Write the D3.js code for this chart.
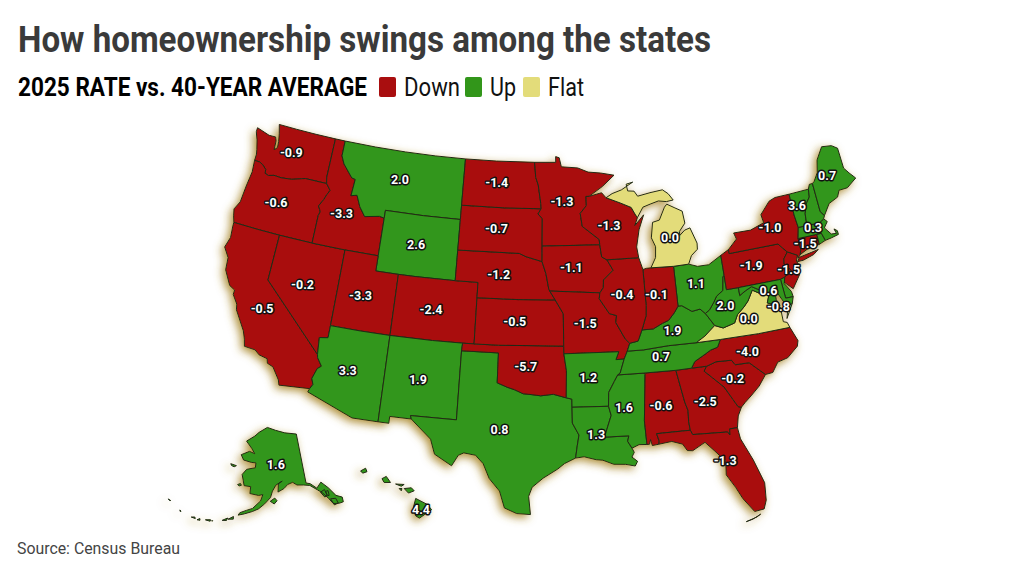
<!DOCTYPE html>
<html>
<head>
<meta charset="utf-8">
<script src="https://cdn.jsdelivr.net/npm/d3@7"></script>
<style>
  html, body { margin: 0; background: #fff; }
  text { font-family: Roboto, sans-serif; }
</style>
</head>
<body>
<div id="chart"></div>
<script>
const stateNames = ["WA","OR","CA","NV","ID","MT","WY","UT","CO","AZ","NM","TX","OK","KS","NE","SD","ND","MN","IA","MO","AR","LA","MS","AL","GA","FL","SC","NC","TN","KY","VA","WV","OH","IN","IL","WI","MI","PA","NY","NJ","DE","MD","CT","RI","MA","VT","NH","ME","AK","HI"];
const stateValues = [-0.9,-0.6,-0.5,-0.2,-3.3,2.0,2.6,-3.3,-2.4,3.3,1.9,0.8,-5.7,-0.5,-1.2,-0.7,-1.4,-1.3,-1.1,-1.5,1.2,1.3,1.6,-0.6,-2.5,-1.3,-0.2,-4.0,0.7,1.9,0.0,2.0,1.1,-0.1,-0.4,-1.3,0.0,-1.9,-1.0,-1.5,-0.8,0.6,-1.5,null,0.3,3.6,null,0.7,1.6,4.4];
const stateTrend = ["Down","Down","Down","Down","Down","Up","Up","Down","Down","Up","Up","Up","Down","Down","Down","Down","Down","Down","Down","Down","Up","Up","Up","Down","Down","Down","Down","Down","Up","Up","Flat","Up","Up","Down","Down","Down","Flat","Down","Down","Down","Up","Up","Down","Up","Up","Up","Up","Up","Up","Up"];
const legendItems = ["Down","Up","Flat"];

// outlines in lon,lat, one string per ring
const outlines = {
  WA: ["-124.7,48.38 -123.4,48.12 -122.75,48.14 -122.6,47.9 -122.55,47.3 -122.3,47.5 -122.35,47.9 -122.5,48.4 -122.75,49 -121,49 -119,49 -117.03,49 -117.04,46.42 -116.92,46 -118.98,46 -119.3,45.93 -120.2,45.73 -121.2,45.65 -121.9,45.68 -122.4,45.57 -122.76,45.65 -122.8,45.9 -123.2,46.15 -123.55,46.26 -124.05,46.27 -124.05,46.7 -124.15,47 -124.4,47.6 -124.7,48.1"],
  OR: ["-124.05,46.27 -123.55,46.26 -123.2,46.15 -122.8,45.9 -122.76,45.65 -122.4,45.57 -121.9,45.68 -121.2,45.65 -120.2,45.73 -119.3,45.93 -118.98,46 -116.92,46 -116.46,45.61 -116.67,45.3 -116.85,44.95 -117.2,44.45 -117.03,44.25 -116.93,44.1 -117.03,43.83 -117.03,42 -120,42 -122,42 -124.21,42 -124.4,42.4 -124.55,42.84 -124.2,43.4 -124.1,44.5 -123.95,45.5"],
  CA: ["-124.21,42 -122,42 -120,42 -120,39 -114.63,35 -114.57,34.8 -114.14,34.3 -114.43,34.1 -114.7,33.4 -114.52,33.03 -114.72,32.72 -117.12,32.53 -117.25,32.85 -117.9,33.6 -118.4,33.75 -118.5,34.03 -119.2,34.15 -119.6,34.4 -120.5,34.45 -120.65,34.9 -120.9,35.4 -121.9,36.6 -122,36.96 -122.5,37.5 -122.5,37.8 -123,38 -123.7,38.9 -123.8,39.7 -124.35,40.3 -124.1,41 -124.2,41.75"],
  NV: ["-120,42 -117.03,42 -114.04,42 -114.04,37 -114.05,36.2 -114.75,36.1 -114.63,35 -120,39"],
  ID: ["-117.03,49 -116.05,49 -116.05,48 -115.7,47.5 -114.7,46.7 -114.35,46.65 -114.45,45.55 -113.9,45.65 -113.45,44.95 -112.85,44.37 -111.5,44.55 -111.05,44.48 -111.05,42 -114.04,42 -117.03,42 -117.03,43.83 -116.93,44.1 -117.03,44.25 -117.2,44.45 -116.85,44.95 -116.67,45.3 -116.46,45.61 -116.92,46 -117.04,46.42"],
  MT: ["-116.05,49 -113,49 -110,49 -107,49 -104.05,49 -104.05,45.94 -104.05,45 -107.5,45 -111.05,45 -111.05,44.48 -111.5,44.55 -112.85,44.37 -113.45,44.95 -113.9,45.65 -114.45,45.55 -114.35,46.65 -114.7,46.7 -115.7,47.5 -116.05,48"],
  WY: ["-111.05,45 -107.5,45 -104.05,45 -104.05,43 -104.05,41 -107.5,41 -109.05,41 -111.05,41 -111.05,42 -111.05,44.48"],
  UT: ["-114.04,42 -111.05,42 -111.05,41 -109.05,41 -109.05,37 -111.5,37 -114.04,37"],
  CO: ["-109.05,41 -107.5,41 -104.05,41 -102.05,41 -102.05,40 -102.05,37 -103,37 -105.5,37 -109.05,37"],
  AZ: ["-114.04,37 -111.5,37 -109.05,37 -109.05,31.33 -111.07,31.33 -114.81,32.49 -114.72,32.72 -114.52,33.03 -114.7,33.4 -114.43,34.1 -114.14,34.3 -114.57,34.8 -114.63,35 -114.75,36.1 -114.05,36.2"],
  NM: ["-109.05,37 -105.5,37 -103,37 -103.04,36.5 -103.04,32 -106.62,32 -106.53,31.78 -108.21,31.78 -108.21,31.33 -109.05,31.33"],
  TX: ["-103.04,36.5 -100,36.5 -100,34.56 -99.2,34.3 -98.6,34.15 -97.9,33.9 -97.2,33.85 -96.5,33.78 -95.5,33.88 -94.48,33.64 -94.04,33.55 -94.04,33.02 -94.04,31.99 -93.55,31.2 -93.7,30.5 -93.85,29.7 -94.7,29.35 -95.2,29 -96.3,28.4 -97.1,27.8 -97.35,27.2 -97.2,26 -98.2,26.05 -99.1,26.4 -99.5,27.5 -100.3,28.3 -100.8,29.25 -101.4,29.77 -102.3,29.88 -102.7,29.7 -103.15,28.98 -104.5,29.65 -104.9,30.6 -106.53,31.78 -106.62,32 -103.04,32"],
  OK: ["-103,37 -102.05,37 -100,37 -94.62,37 -94.62,36.5 -94.43,35.4 -94.48,33.64 -95.5,33.88 -96.5,33.78 -97.2,33.85 -97.9,33.9 -98.6,34.15 -99.2,34.3 -100,34.56 -100,36.5 -103.04,36.5"],
  KS: ["-102.05,40 -98.5,40 -95.3,40 -94.62,39.1 -94.62,37 -100,37 -102.05,37"],
  NE: ["-104.05,43 -98.5,43 -97.9,42.8 -96.45,42.49 -96.1,41.7 -95.85,40.7 -95.77,40.58 -95.3,40 -98.5,40 -102.05,40 -102.05,41 -104.05,41"],
  SD: ["-104.05,45.94 -100,45.94 -96.56,45.94 -96.85,45.6 -96.45,45.3 -96.45,43.5 -96.45,42.49 -97.9,42.8 -98.5,43 -104.05,43 -104.05,45"],
  ND: ["-104.05,49 -101,49 -97.23,49 -97.1,48 -96.85,47.5 -96.6,46.3 -96.56,45.94 -100,45.94 -104.05,45.94"],
  MN: ["-97.23,49 -95.15,49 -95.15,49.38 -94.8,49.3 -94.6,48.7 -93,48.6 -92,48.3 -90.8,48.2 -89.5,48 -90.7,47.3 -92,46.7 -92.3,46.7 -92.3,46.1 -92.9,45.6 -92.75,44.75 -91.25,43.85 -91.22,43.5 -96.45,43.5 -96.45,45.3 -96.85,45.6 -96.56,45.94 -96.6,46.3 -96.85,47.5 -97.1,48"],
  IA: ["-96.45,43.5 -91.22,43.5 -91.1,42.7 -90.65,42.5 -90.15,41.8 -91.05,41.2 -91.1,40.7 -91.42,40.38 -95.77,40.58 -95.85,40.7 -96.1,41.7 -96.45,42.49"],
  MO: ["-95.77,40.58 -91.42,40.38 -91.5,40 -90.7,39 -90.1,38.85 -90.2,38.4 -89.5,37.3 -89.15,37 -89.4,36.5 -89.7,36 -90.37,36 -90.1,36.5 -94.62,36.5 -94.62,37 -94.62,39.1 -95.3,40"],
  AR: ["-94.62,36.5 -90.1,36.5 -90.37,36 -89.7,36 -90.1,35.1 -90.3,35 -90.6,34.6 -91.1,33.9 -91.17,33 -94.04,33.02 -94.04,33.55 -94.48,33.64 -94.43,35.4"],
  LA: ["-94.04,33.02 -91.17,33 -91,32.4 -91.6,31 -89.73,31 -89.85,30.65 -89.55,30.18 -89.4,29.9 -89.6,29.6 -89.2,29.3 -89.4,29 -90.1,29.15 -91,29.2 -91.8,29.5 -92.3,29.55 -93.2,29.77 -93.85,29.7 -93.7,30.5 -93.55,31.2 -94.04,31.99"],
  MS: ["-91.17,33 -91.1,33.9 -90.6,34.6 -90.3,35 -88.2,35 -88.1,34.9 -88.45,31.9 -88.4,30.35 -89,30.38 -89.55,30.18 -89.85,30.65 -89.73,31 -91.6,31 -91,32.4"],
  AL: ["-88.2,35 -85.6,34.98 -85.18,32.87 -85,32.3 -85.05,31.55 -85,31 -87.6,31 -87.45,30.5 -87.5,30.3 -88,30.25 -88.1,30.65 -88.2,30.35 -88.4,30.35 -88.45,31.9 -88.1,34.9"],
  GA: ["-85.6,34.98 -84.32,35 -83.1,35 -83.35,34.7 -82.75,34.2 -81.95,33.5 -81.4,32.6 -81.1,32.1 -80.85,32.03 -81.2,31.5 -81.4,30.75 -82,30.75 -82.05,30.36 -82.2,30.57 -84.86,30.7 -85,31 -85.05,31.55 -85,32.3 -85.18,32.87"],
  FL: ["-87.6,31 -85,31 -84.86,30.7 -82.2,30.57 -82.05,30.36 -82,30.75 -81.4,30.75 -81.3,30 -80.6,28.5 -80.05,26.9 -80.15,25.75 -80.4,25.2 -81.1,25.13 -81.8,26.1 -82.2,26.9 -82.75,27.8 -82.65,28.7 -83.4,29.5 -84,30.1 -85,29.65 -85.4,29.7 -85.7,30.15 -86.5,30.4 -87.5,30.3 -87.45,30.5",
       "-81.8,24.55 -81.3,24.65 -80.7,24.9 -81,24.75"],
  SC: ["-83.1,35 -82.3,35.2 -81.05,35.15 -80.8,34.82 -79.67,34.8 -78.55,33.86 -79.2,33.2 -79.9,32.7 -80.5,32.3 -80.85,32.03 -81.1,32.1 -81.4,32.6 -81.95,33.5 -82.75,34.2 -83.35,34.7"],
  NC: ["-84.32,35 -83.1,35 -82.3,35.2 -81.05,35.15 -80.8,34.82 -79.67,34.8 -78.55,33.86 -77.95,33.9 -77.4,34.5 -76.55,34.65 -75.6,35.25 -75.45,35.6 -75.87,36.55 -78.5,36.55 -81.68,36.59 -82,36.12 -82.6,36 -83.1,35.78 -84,35.4"],
  TN: ["-90.3,35 -88.2,35 -85.6,34.98 -84.32,35 -84,35.4 -83.1,35.78 -82.6,36 -82,36.12 -81.68,36.59 -83.68,36.6 -86,36.62 -88.07,36.5 -89.4,36.5 -89.7,36 -90.1,35.1"],
  KY: ["-89.4,36.5 -88.07,36.5 -86,36.62 -83.68,36.6 -82.9,36.95 -81.97,37.54 -82.6,38.4 -83,38.73 -83.7,38.65 -84.5,39.1 -84.82,39.1 -85.2,38.7 -85.75,38.25 -86.3,38.1 -87.1,37.8 -88.05,37.8 -88.45,37.1 -89.15,37"],
  VA: ["-75.87,36.55 -78.5,36.55 -81.68,36.59 -83.68,36.6 -82.9,36.95 -81.97,37.54 -81.3,37.3 -80.3,37.5 -79.95,38 -79.3,38.42 -78.87,38.76 -78.35,39.4 -77.83,39.13 -77.5,39.2 -77.05,38.85 -77.3,38.4 -76.3,37.95 -76.3,37 -76,36.9",
       "-75.95,37.15 -75.6,37.6 -75.25,38.03 -75.65,37.95"],
  WV: ["-81.97,37.54 -82.6,38.4 -82.2,38.6 -81.75,39.05 -81.45,39.4 -80.85,39.7 -80.65,40.6 -80.52,40.64 -80.52,39.72 -79.48,39.72 -79.48,39.2 -78.9,39.45 -78.35,39.63 -77.73,39.32 -77.83,39.13 -78.35,39.4 -78.87,38.76 -79.3,38.42 -79.95,38 -80.3,37.5 -81.3,37.3"],
  OH: ["-84.82,39.1 -84.5,39.1 -83.7,38.65 -83,38.73 -82.6,38.4 -82.2,38.6 -81.75,39.05 -81.45,39.4 -80.85,39.7 -80.65,40.6 -80.52,40.64 -80.52,41.98 -81.7,41.5 -82.7,41.5 -83.45,41.72 -84.8,41.7"],
  IN: ["-84.8,41.7 -86.8,41.76 -87.2,41.76 -87.52,41.7 -87.52,39.35 -87.6,38.7 -88.05,37.8 -87.1,37.8 -86.3,38.1 -85.75,38.25 -85.2,38.7 -84.82,39.1"],
  IL: ["-87.52,41.7 -87.8,42.49 -90.65,42.5 -90.15,41.8 -91.05,41.2 -91.1,40.7 -91.42,40.38 -91.5,40 -90.7,39 -90.1,38.85 -90.2,38.4 -89.5,37.3 -89.15,37 -88.45,37.1 -88.05,37.8 -87.6,38.7 -87.52,39.35"],
  WI: ["-90.65,42.5 -87.8,42.49 -87.9,43.2 -87.55,44.3 -87,45.25 -87.9,44.6 -87.6,45.1 -87.8,45.35 -88.1,45.8 -89.1,46.15 -90.4,46.55 -90.8,46.9 -92,46.7 -92.3,46.7 -92.3,46.1 -92.9,45.6 -92.75,44.75 -91.25,43.85 -91.22,43.5 -91.1,42.7"],
  MI: ["-84.8,41.7 -86.8,41.76 -86.3,42.4 -86.2,43.1 -86.5,43.7 -86.25,44.7 -85.6,44.8 -85,45.6 -84.75,45.78 -84.1,45.5 -83.4,45.2 -83.3,44.4 -83.9,43.9 -83.9,43.65 -83.4,43.95 -82.9,44.05 -82.45,43 -82.5,42.6 -83.1,42.25 -83.45,41.72",
       "-90.4,46.55 -89.1,46.15 -88.1,45.8 -87.8,45.35 -87.6,45.1 -87,45.75 -86.3,45.9 -85.5,46.05 -84.75,45.95 -84.1,46 -84.5,46.45 -85,46.75 -86.2,46.65 -87.4,46.5 -87.7,46.85 -88.3,46.9 -88.4,47.35 -87.75,47.45 -88.9,47 -89.8,46.8"],
  PA: ["-80.52,41.98 -79.76,42.27 -79.76,42 -75.35,42 -74.7,41.36 -75.13,40.97 -75.2,40.65 -74.72,40.15 -75.4,39.8 -75.79,39.72 -79.48,39.72 -80.52,39.72 -80.52,40.64"],
  NY: ["-79.76,42.27 -78.9,42.85 -79.05,43.27 -77.5,43.25 -76.2,43.55 -76.3,44.1 -75.3,44.85 -74.7,45 -73.35,45 -73.35,43.6 -73.25,42.75 -73.5,42.05 -73.5,41.3 -73.65,41 -73.9,40.8 -73.9,41 -74.7,41.36 -75.35,42 -79.76,42",
       "-74.03,40.6 -73.75,40.85 -72.6,40.98 -72,41.05 -72.5,40.8 -73.5,40.6"],
  NJ: ["-74.7,41.36 -73.9,41 -74.1,40.65 -74,40.45 -74.1,39.75 -74.9,38.95 -75.55,39.5 -75.4,39.8 -74.72,40.15 -75.2,40.65 -75.13,40.97"],
  DE: ["-75.79,39.72 -75.4,39.8 -75.55,39.4 -75.1,38.8 -75.05,38.45 -75.7,38.46"],
  MD: ["-79.48,39.72 -75.79,39.72 -75.7,38.46 -75.05,38.45 -75.25,38.03 -75.65,37.95 -75.9,38.2 -76.3,38.9 -76.2,39.3 -76.45,39.2 -76.5,38.5 -76.3,38.05 -77.3,38.4 -77.05,38.85 -77.5,39.2 -77.73,39.32 -78.35,39.63 -78.9,39.45 -79.48,39.2"],
  CT: ["-73.5,42.05 -71.8,42.02 -71.8,41.35 -72.9,41.25 -73.65,41 -73.5,41.3"],
  RI: ["-71.8,42.02 -71.38,42.02 -71.2,41.5 -71.8,41.35"],
  MA: ["-73.5,42.05 -73.25,42.75 -72.46,42.73 -71.3,42.7 -70.85,42.88 -70.6,42.65 -71,42.3 -70.55,41.8 -70.1,41.75 -70.2,42.07 -69.95,41.9 -69.95,41.65 -70.65,41.55 -71.2,41.5 -71.38,42.02 -71.8,42.02"],
  VT: ["-73.35,45 -71.5,45.01 -71.6,44.5 -72.05,44.1 -72.35,43.5 -72.46,42.73 -73.25,42.75 -73.35,43.6"],
  NH: ["-71.5,45.01 -71.3,45.3 -71,45.3 -70.98,43.4 -70.7,43.07 -70.85,42.88 -71.3,42.7 -72.46,42.73 -72.35,43.5 -72.05,44.1 -71.6,44.5"],
  ME: ["-71,45.3 -70.8,45.4 -70.3,45.9 -70,46.7 -69.23,47.46 -68.3,47.35 -67.8,47.07 -67.8,45.7 -67.45,45.3 -67,44.85 -68,44.4 -68.8,44.4 -69.1,44 -70,43.75 -70.7,43.07 -70.98,43.4"],
  AK: ["-141,69.65 -141,60.3 -139.5,60 -137.5,58.9 -135.5,59.8 -133.5,58.4 -131.8,56.6 -130,55.9 -130.2,55 -131.6,55 -133.5,55.3 -134.5,56.5 -136,57.8 -137.5,58.6 -139.8,59.7 -142,60 -144.5,60.2 -146,60.8 -148,60.5 -149.5,59.8 -151.8,59.2 -151.5,60.8 -150,61.2 -152.5,60.5 -153.8,59.4 -154.5,58.2 -156.5,57 -158.5,56 -160.5,55.4 -163,54.8 -164.9,54.4 -164.5,54.9 -162.5,55.5 -160.5,56 -158,57.5 -157.3,58.7 -158.8,58.5 -162,58.7 -162,60 -164.5,60 -165.2,61 -166,62 -164.5,63.1 -161,63.6 -161,64.5 -163,64.5 -166.5,64.7 -168,65.6 -164.5,66.5 -162,66.2 -163.7,67.1 -166.8,68.3 -163,69.5 -161,70.3 -156.6,71.35 -152,70.8 -147,70.2",
       "-154.6,57.5 -153.2,57 -152.2,57.6 -153,58.1",
       "-167.8,53.3 -166.3,54 -166.2,53.5",
       "-169.5,52.85 -168,53.5 -168.2,53",
       "-172.6,52.3 -172.3,52.35 -172.4,52.2",
       "-174.5,52.1 -173,52.4 -173,52.1",
       "-176.9,51.6 -176.2,52 -176,51.7",
       "-178.8,51.7 -177.8,51.95 -177.5,51.7",
       "177.2,52.1 177.7,51.95 177.5,51.85",
       "172.5,52.95 173.4,52.9 173.1,52.8",
       "-171.5,63.5 -169,63.4 -169.8,63.1 -171,63.2",
       "-167,60 -166,60.3 -165.5,60 -166.3,59.8",
       "-136.6,58 -135,58.3 -134.7,57.2 -135.6,56.9",
       "-134.8,57.9 -133.9,57.9 -134,57 -134.6,57",
       "-133.9,56.3 -132.2,56.1 -131.9,55.1 -133.3,55"],
  HI: ["-155.9,20.25 -155.1,19.85 -154.8,19.5 -155.65,18.95 -155.9,19.1 -156.05,19.7",
       "-156.7,20.9 -156.2,20.95 -156,20.75 -156.4,20.6",
       "-158.25,21.55 -157.95,21.7 -157.65,21.3 -158.1,21.3",
       "-159.75,22.05 -159.4,22.23 -159.3,22 -159.6,21.9",
       "-157.3,21.2 -156.7,21.17 -156.9,21.05",
       "-157.05,20.9 -156.85,20.9 -156.9,20.75"]
};

const width = 1024, height = 576;
const color = d3.scaleOrdinal().domain(legendItems).range(["#a90e0f", "#32961a", "#e3dc7a"]);

const svg = d3.select("#chart").append("svg").attr("width", width).attr("height", height);

const glow = svg.append("defs").append("filter").attr("id", "glow")
  .attr("x", "-20%").attr("y", "-20%").attr("width", "140%").attr("height", "140%");
glow.append("feDropShadow").attr("dx", -3).attr("dy", 3).attr("stdDeviation", 4)
  .attr("flood-color", "#a8862a").attr("flood-opacity", 0.9);

svg.append("text").attr("x", 18).attr("y", 52)
  .attr("font-size", 37).attr("font-weight", 700).attr("fill", "#3a3a3a")
  .attr("textLength", 693).attr("lengthAdjust", "spacingAndGlyphs")
  .text("How homeownership swings among the states");

svg.append("text").attr("x", 18).attr("y", 96)
  .attr("font-size", 25).attr("font-weight", 700).attr("fill", "#000")
  .attr("textLength", 349).attr("lengthAdjust", "spacingAndGlyphs")
  .text("2025 RATE vs. 40-YEAR AVERAGE");

const swatchX = d3.scaleOrdinal().domain(legendItems).range([379, 465, 523]);
const legendWidth = d3.scaleOrdinal().domain(legendItems).range([56, 26, 36]);
const legend = svg.append("g").selectAll("g").data(legendItems).join("g")
  .attr("transform", d => `translate(${swatchX(d)},77)`);
legend.append("rect").attr("width", 17).attr("height", 20).attr("rx", 2).attr("fill", d => color(d));
legend.append("text").attr("x", 25).attr("y", 19)
  .attr("font-size", 25).attr("fill", "#111")
  .attr("textLength", d => legendWidth(d)).attr("lengthAdjust", "spacingAndGlyphs")
  .text(d => d);

svg.append("text").attr("x", 17).attr("y", 554)
  .attr("font-size", 16).attr("fill", "#444")
  .attr("textLength", 163).attr("lengthAdjust", "spacingAndGlyphs")
  .text("Source: Census Bureau");

const projection = d3.geoAlbersUsa().scale(875).translate([540, 320]);
const path = d3.geoPath(projection);

function toRing(s) {
  const ring = s.split(" ").map(p => p.split(",").map(Number));
  ring.push(ring[0]);
  // d3 wants clockwise rings, otherwise it fills the rest of the globe
  if (d3.geoArea({type: "Polygon", coordinates: [ring]}) > 2 * Math.PI) ring.reverse();
  return [ring];
}

const states = stateNames.map((name, i) => ({
  name: name,
  value: stateValues[i],
  trend: stateTrend[i],
  geometry: {type: "MultiPolygon", coordinates: outlines[name].map(toRing)}
}));

// the two insets sit a little left of where geoAlbersUsa puts them
const insetShift = {AK: [-5, 0], HI: [-4, -2]};
const shifted = d => {
  const s = insetShift[d.name] || [0, 0];
  return `translate(${s[0]},${s[1]})`;
};

svg.append("g").attr("filter", "url(#glow)")
  .selectAll("path").data(states).join("path")
  .attr("d", d => path(d.geometry))
  .attr("transform", shifted)
  .attr("fill", d => color(d.trend))
  .attr("stroke", "#1f2a14").attr("stroke-width", 1).attr("stroke-linejoin", "round");

// small moves off the centroid, most labels sit where the artist pushed them
const labelNudge = {
  WA: [-4,-2], OR: [-5,-2], CA: [-5,0], NV: [-5,0], ID: [-4,0], MT: [-5,-2], WY: [-3,-2], UT: [-4,0], CO: [-4,0],
  AZ: [-4,-1], NM: [-3,0], TX: [-5,-1], OK: [-3,-1], KS: [-4,-1], NE: [-5,-1], SD: [-5,-2], ND: [-4,-2], MN: [-4,-1],
  IA: [-4,-1], MO: [-4,-2], AR: [-3,0], LA: [-4,-3], MS: [-4,-1], AL: [-3,0], GA: [-2,-1], FL: [-3,-1], SC: [-4,-1],
  NC: [-6,1], TN: [-5,-1], KY: [-3,0], VA: [-3,-1], WV: [-3,0], OH: [-3,-2], IN: [-3,-1], IL: [-4,-2], WI: [-3,-1],
  MI: [7,9], PA: [-3,-1], NY: [-3,-3], NJ: [-3,0], DE: [-8,17], MD: [-2,-1], CT: [-3,1], MA: [-3,-3], VT: [-3,-1],
  ME: [-3,-2], AK: [-6,-3], HI: [5,7]
};

svg.append("g").selectAll("text").data(states.filter(d => d.value !== null)).join("text")
  .attr("transform", d => {
    const c = path.centroid(d.geometry);
    const n = labelNudge[d.name] || [0, 0];
    return `translate(${c[0] + n[0]},${c[1] + n[1]})`;
  })
  .attr("text-anchor", "middle").attr("dy", "0.36em")
  .attr("font-size", 12.5).attr("font-weight", 700).attr("fill", "#fff")
  .attr("stroke", "#111").attr("stroke-width", 3).attr("paint-order", "stroke").attr("stroke-linejoin", "round")
  .text(d => d3.format(".1f")(d.value).replace("\u2212", "-"));
</script>
</body>
</html>
